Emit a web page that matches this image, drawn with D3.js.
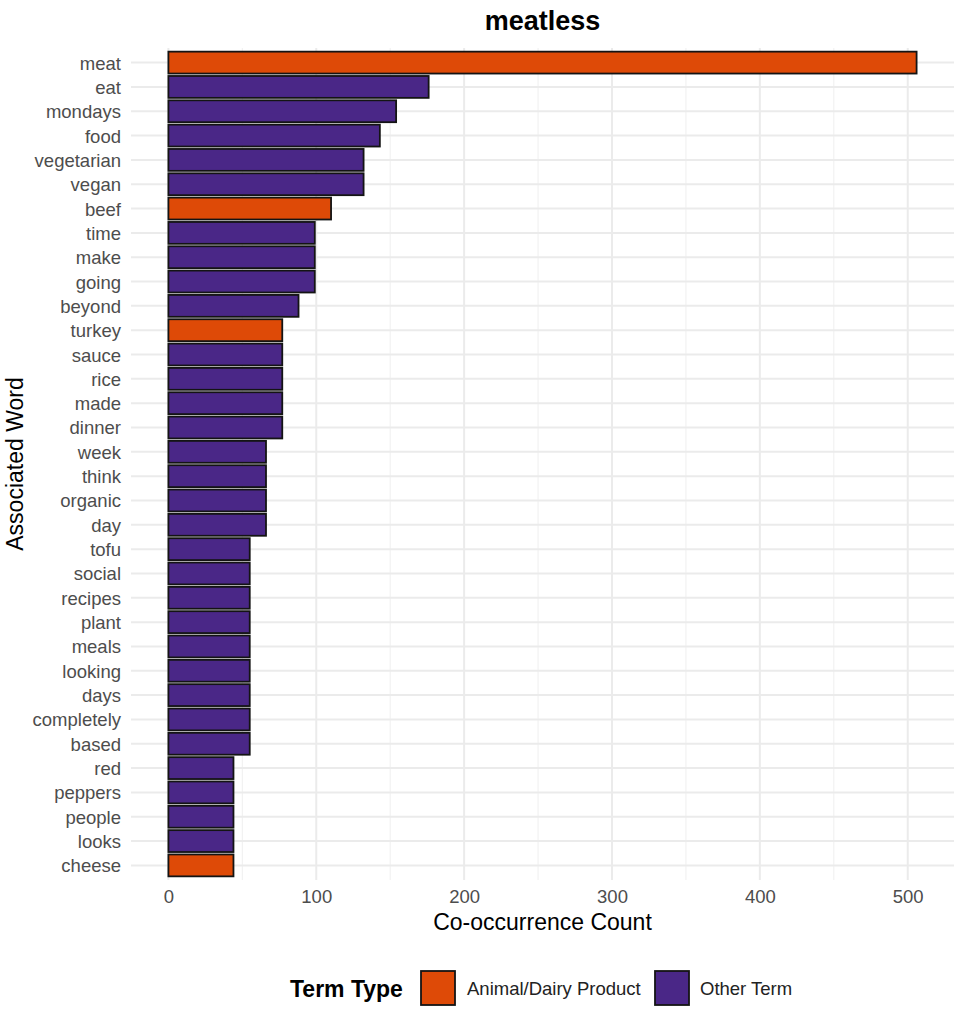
<!DOCTYPE html>
<html><head><meta charset="utf-8">
<script src="https://cdn.jsdelivr.net/npm/d3@7"></script>
<style>body{margin:0;background:#fff;} svg text{font-family:"Liberation Sans",Arial,Helvetica,sans-serif;}</style>
</head><body>
<svg id="c" width="957" height="1029"></svg>
<script>
const words = ["meat","eat","mondays","food","vegetarian","vegan","beef","time","make","going","beyond","turkey","sauce","rice","made","dinner","week","think","organic","day","tofu","social","recipes","plant","meals","looking","days","completely","based","red","peppers","people","looks","cheese"];
const counts = [506,176,154,143,132,132,110,99,99,99,88,77,77,77,77,77,66,66,66,66,55,55,55,55,55,55,55,55,55,44,44,44,44,44];
const types = ["Animal/Dairy Product","Other Term","Other Term","Other Term","Other Term","Other Term","Animal/Dairy Product","Other Term","Other Term","Other Term","Other Term","Animal/Dairy Product","Other Term","Other Term","Other Term","Other Term","Other Term","Other Term","Other Term","Other Term","Other Term","Other Term","Other Term","Other Term","Other Term","Other Term","Other Term","Other Term","Other Term","Other Term","Other Term","Other Term","Other Term","Animal/Dairy Product"];
const xTicks = [0,100,200,300,400,500];
const legendKeys = ["Animal/Dairy Product","Other Term"];
const legendColors = ["#DE4A07","#4A2787"];

const data = words.map((w,i)=>({word:w,count:counts[i],type:types[i]}));
const svg = d3.select("#c");
const L=131, R=954, T=48, B=880;
const maxV = d3.max(counts);
const x = d3.scaleLinear().domain([-0.05*maxV, maxV*1.05]).range([L,R]);
const n = words.length;
const step = (B-T)/(n-1+1.2);
const y = d3.scalePoint().domain(words).range([T+0.6*step, B-0.6*step]);
const color = d3.scaleOrdinal().domain(legendKeys).range(legendColors);

// minor vertical grid
const minor = d3.range(50, 550, 100);
svg.append("g").selectAll("line").data(minor).join("line")
  .attr("x1",d=>x(d)).attr("x2",d=>x(d)).attr("y1",T).attr("y2",B)
  .attr("stroke","#F2F2F2").attr("stroke-width",1.2);
// major vertical grid
svg.append("g").selectAll("line").data(xTicks).join("line")
  .attr("x1",d=>x(d)).attr("x2",d=>x(d)).attr("y1",T).attr("y2",B)
  .attr("stroke","#EBEBEB").attr("stroke-width",2);
// horizontal grid
svg.append("g").selectAll("line").data(words).join("line")
  .attr("x1",L).attr("x2",R).attr("y1",d=>y(d)).attr("y2",d=>y(d))
  .attr("stroke","#EBEBEB").attr("stroke-width",2);

// bars
const bh = step*0.9;
svg.append("g").selectAll("rect").data(data).join("rect")
  .attr("x",x(0)).attr("y",d=>y(d.word)-bh/2)
  .attr("width",d=>x(d.count)-x(0)).attr("height",bh)
  .attr("fill",d=>color(d.type)).attr("stroke","#141414").attr("stroke-width",1.8);

// y labels
const yAxis = d3.axisLeft(y).tickSize(0).tickPadding(0);
const gy = svg.append("g").attr("transform",`translate(${L-10},0)`).call(yAxis);
gy.select(".domain").remove();
gy.selectAll("text").attr("font-size",18.5).attr("fill","#4D4D4D").attr("dy","0.35em")
  .style("font-family","'Liberation Sans',Arial,sans-serif");

// x labels
const xAxis = d3.axisBottom(x).tickValues(xTicks).tickSize(0).tickPadding(0);
const gx = svg.append("g").attr("transform",`translate(0,${B+8})`).call(xAxis);
gx.select(".domain").remove();
gx.selectAll("text").attr("font-size",18.5).attr("fill","#4D4D4D").attr("dy","0.8em")
  .style("font-family","'Liberation Sans',Arial,sans-serif");

// titles
svg.append("text").attr("x",(L+R)/2).attr("y",30).attr("text-anchor","middle")
  .attr("font-size",27).attr("font-weight","bold").attr("fill","#000").text("meatless");
svg.append("text").attr("x",(L+R)/2).attr("y",930).attr("text-anchor","middle")
  .attr("font-size",23).attr("fill","#000").text("Co-occurrence Count");
svg.append("text").attr("transform",`translate(23,${(T+B)/2}) rotate(-90)`).attr("text-anchor","middle")
  .attr("font-size",23).attr("fill","#000").text("Associated Word");

// legend
const lg = svg.append("g");
lg.append("text").attr("x",290).attr("y",997).attr("font-size",23).attr("font-weight","bold").attr("fill","#000").text("Term Type");
const keyX = [421, 655], txtX = [467, 700];
legendKeys.forEach((k,i)=>{
  lg.append("rect").attr("x",keyX[i]).attr("y",971).attr("width",34).attr("height",34)
    .attr("fill",color(k)).attr("stroke","#141414").attr("stroke-width",1.8);
  lg.append("text").attr("x",txtX[i]).attr("y",995).attr("font-size",18.5).attr("fill","#222").text(k);
});
</script>
</body></html>
